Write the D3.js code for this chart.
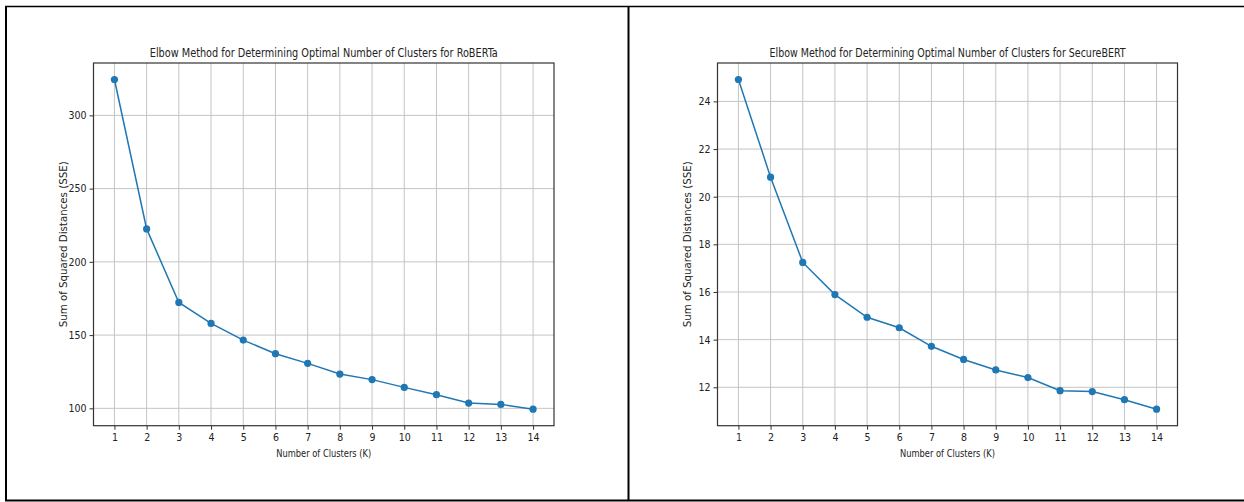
<!DOCTYPE html>
<html>
<head>
<meta charset="utf-8">
<script src="https://cdn.jsdelivr.net/npm/d3@7"></script>
<style>
	body { margin:0; background:#fff; }
	svg { display:block; }
	text { font-family:"DejaVu Sans Condensed","DejaVu Sans",sans-serif; fill:#222; }
</style>
</head>
<body>
<svg id="chart" width="1244" height="502"></svg>
<script>
var clusters      = [1,2,3,4,5,6,7,8,9,10,11,12,13,14];
var robertaSSE    = [324.5,222.5,172.3,158.0,146.6,137.3,130.7,123.4,119.6,114.3,109.3,103.6,102.7,99.4];
var securebertSSE = [24.92,20.82,17.24,15.89,14.94,14.5,13.72,13.17,12.73,12.41,11.86,11.82,11.48,11.08];
var robertaTicks    = [100,150,200,250,300];
var securebertTicks = [12,14,16,18,20,22,24];
var titles = [
	"Elbow Method for Determining Optimal Number of Clusters for RoBERTa",
	"Elbow Method for Determining Optimal Number of Clusters for SecureBERT"
];
var xLabel = "Number of Clusters (K)";
var yLabel = "Sum of Squared Distances (SSE)";

var svg = d3.select("#chart");

// table borders round the two pictures
var border = svg.append("g").attr("stroke","#000").attr("fill","none");
border.append("line").attr("x1",5).attr("y1",6.5).attr("x2",1244).attr("y2",6.5).attr("stroke-width",1.5);
border.append("line").attr("x1",6).attr("y1",6).attr("x2",6).attr("y2",501).attr("stroke-width",2);
border.append("line").attr("x1",628.5).attr("y1",6).attr("x2",628.5).attr("y2",501).attr("stroke-width",2);
border.append("line").attr("x1",5).attr("y1",500.5).attr("x2",1244).attr("y2",500.5).attr("stroke-width",2);

var panels = [
	{ title:titles[0], values:robertaSSE,    ticks:robertaTicks,    left:93.5,  right:554,    titleLen:348 },
	{ title:titles[1], values:securebertSSE, ticks:securebertTicks, left:717.5, right:1177.5, titleLen:356 }
];
var top0 = 63, bottom0 = 425.7;

panels.forEach(drawPanel);

function drawPanel(p) {
	var lo = d3.min(p.values), hi = d3.max(p.values), pad = (hi-lo)*0.05;
	var x = d3.scaleLinear().domain([0.35,14.65]).range([p.left,p.right]);
	var y = d3.scaleLinear().domain([lo-pad,hi+pad]).range([bottom0,top0]);
	var g = svg.append("g");

	// grid
	g.append("g").selectAll("line").data(clusters).enter().append("line")
		.attr("x1",function(d){ return x(d); }).attr("x2",function(d){ return x(d); })
		.attr("y1",top0).attr("y2",bottom0)
		.attr("stroke","#c4c4c4").attr("stroke-width",1);
	g.append("g").selectAll("line").data(p.ticks).enter().append("line")
		.attr("x1",p.left).attr("x2",p.right)
		.attr("y1",function(d){ return y(d); }).attr("y2",function(d){ return y(d); })
		.attr("stroke","#c4c4c4").attr("stroke-width",1);

	// axes
	var xa = g.append("g").attr("transform","translate(0,"+bottom0+")")
		.call(d3.axisBottom(x).tickValues(clusters).tickSizeOuter(0).tickSize(4).tickPadding(4));
	var ya = g.append("g").attr("transform","translate("+p.left+",0)")
		.call(d3.axisLeft(y).tickValues(p.ticks).tickSizeOuter(0).tickSize(4).tickPadding(3));
	[xa,ya].forEach(function(a){
		a.select(".domain").remove();
		a.selectAll("line").attr("stroke","#333");
		a.selectAll("text").attr("font-size",10.5).attr("fill","#222")
			.attr("font-family","DejaVu Sans Condensed, DejaVu Sans, sans-serif");
	});

	// frame
	g.append("rect").attr("x",p.left).attr("y",top0)
		.attr("width",p.right-p.left).attr("height",bottom0-top0)
		.attr("fill","none").attr("stroke","#333").attr("stroke-width",1.2);

	// series
	var line = d3.line().x(function(d,i){ return x(clusters[i]); }).y(function(d){ return y(d); });
	g.append("path").datum(p.values).attr("d",line)
		.attr("fill","none").attr("stroke","#1f77b4").attr("stroke-width",1.5);
	g.append("g").selectAll("circle").data(p.values).enter().append("circle")
		.attr("cx",function(d,i){ return x(clusters[i]); }).attr("cy",function(d){ return y(d); })
		.attr("r",3.6).attr("fill","#1f77b4");

	// texts
	var cx = (p.left+p.right)/2;
	g.append("text").attr("x",cx).attr("y",57).attr("text-anchor","middle")
		.attr("font-size",12).attr("textLength",p.titleLen).attr("lengthAdjust","spacingAndGlyphs")
		.text(p.title);
	g.append("text").attr("x",cx).attr("y",457).attr("text-anchor","middle")
		.attr("font-size",10.5).attr("textLength",95).attr("lengthAdjust","spacingAndGlyphs")
		.text(xLabel);
	g.append("text").attr("transform","translate("+(p.left-27)+","+((top0+bottom0)/2)+") rotate(-90)")
		.attr("text-anchor","middle").attr("font-size",10.5)
		.attr("textLength",166).attr("lengthAdjust","spacingAndGlyphs")
		.text(yLabel);
}
</script>
</body>
</html>
